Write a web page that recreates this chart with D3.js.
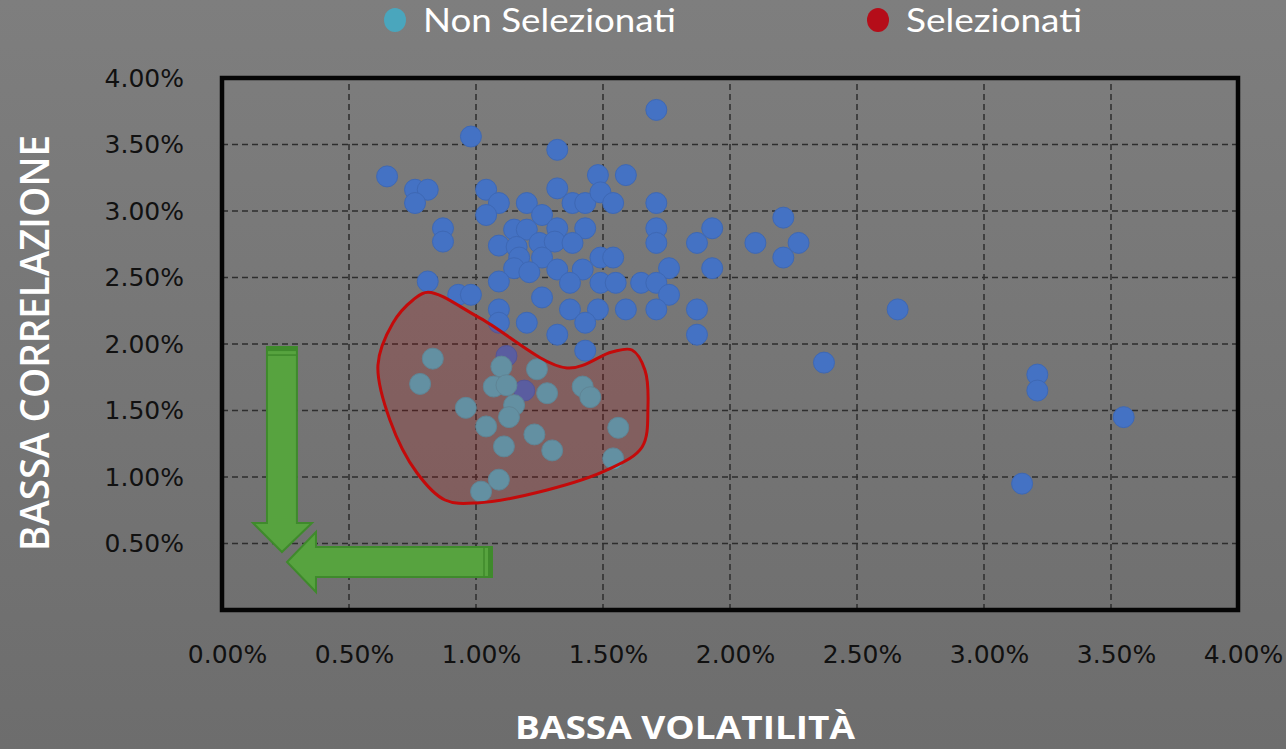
<!DOCTYPE html>
<html>
<head>
<meta charset="utf-8">
<script src="https://cdn.jsdelivr.net/npm/d3@7"></script>
<style>
  html, body { margin: 0; padding: 0; background: #777; }
  svg { display: block; }
</style>
</head>
<body>
<div id="chart"></div>
<script>
// values, in percent
var xTicks = [0, 0.5, 1, 1.5, 2, 2.5, 3, 3.5, 4];
var yTicks = [0.5, 1, 1.5, 2, 2.5, 3, 3.5, 4];

// non selezionati (blue)
var nonSelezionati = [
  [1.71,3.76],[0.98,3.56],[1.32,3.46],[0.65,3.26],[0.76,3.16],[0.81,3.16],[0.76,3.06],
  [1.04,3.16],[1.09,3.06],[1.20,3.06],[1.32,3.17],[1.48,3.27],[1.59,3.27],[1.38,3.06],
  [1.43,3.06],[1.49,3.14],[1.54,3.06],[1.71,3.06],[1.04,2.97],[1.26,2.97],[1.32,2.87],
  [1.43,2.87],[1.71,2.87],[1.71,2.76],[1.93,2.87],[1.87,2.76],[0.87,2.87],[0.87,2.77],
  [1.15,2.86],[1.20,2.86],[1.09,2.74],[1.16,2.73],[1.25,2.76],[1.31,2.77],[1.38,2.76],
  [1.17,2.65],[1.26,2.65],[1.49,2.65],[1.54,2.65],[1.15,2.57],[1.21,2.54],[1.32,2.56],
  [1.42,2.56],[1.76,2.57],[1.93,2.57],[0.81,2.47],[1.09,2.47],[1.37,2.46],[1.49,2.46],
  [1.55,2.46],[1.65,2.46],[1.71,2.46],[1.76,2.37],[0.93,2.37],[0.98,2.37],[1.26,2.35],
  [1.09,2.26],[1.37,2.26],[1.48,2.26],[1.59,2.26],[1.71,2.26],[1.87,2.26],[1.09,2.16],
  [1.20,2.16],[1.43,2.16],[1.32,2.07],[1.87,2.07],[1.43,1.95],[2.21,2.95],[2.10,2.76],
  [2.27,2.76],[2.21,2.65],[2.66,2.26],[2.37,1.86],[3.21,1.77],[3.21,1.65],[3.55,1.45],
  [3.15,0.95],[1.12,1.91],[1.19,1.65]
];

// selezionati (cyan, inside the red region)
var selezionati = [
  [0.83,1.89],[0.78,1.70],[1.10,1.83],[1.24,1.81],[1.07,1.68],[1.12,1.69],[1.28,1.63],
  [1.42,1.68],[1.45,1.60],[1.15,1.54],[0.96,1.52],[1.13,1.45],[1.04,1.38],[1.56,1.37],
  [1.23,1.32],[1.11,1.23],[1.30,1.20],[1.54,1.14],[1.09,0.98],[1.02,0.89]
];

// outline of the selected region
var regione = [
  [0.811,2.39],[1.016,2.195],[1.358,1.82],[1.535,1.94],[1.614,1.955],[1.665,1.805],
  [1.677,1.526],[1.654,1.226],[1.516,1.053],[1.28,0.902],[1.004,0.805],[0.878,0.827],
  [0.768,1.03],[0.661,1.429],[0.614,1.842],[0.673,2.158],[0.752,2.331]
];

// arrows (in data units)
var frecciaGiu = [[0.177,1.977],[0.295,1.977],[0.295,0.654],[0.354,0.654],[0.236,0.436],[0.122,0.654],[0.177,0.654]];
var frecciaSx = [[1.063,0.474],[0.370,0.474],[0.370,0.586],[0.256,0.361],[0.370,0.135],[0.370,0.248],[1.063,0.248]];

var legenda = ["Non Selezionati", "Selezionati"];
var colori = ["#4aa6bd", "#b50d19"];

var width = 1286,
    height = 749;
var margin = { top: 78, right: 48, bottom: 139, left: 222 };

var svg = d3.select('#chart')
      .append('svg')
      .attr('width', width)
      .attr('height', height);

// background, slightly darker at the bottom
var grad = svg.append('defs').append('linearGradient')
      .attr('id', 'bg').attr('x1', 0).attr('y1', 0).attr('x2', 0).attr('y2', 1);
grad.append('stop').attr('offset', '0%').attr('stop-color', '#7e7e7e');
grad.append('stop').attr('offset', '100%').attr('stop-color', '#6d6d6d');
svg.append('rect').attr('width', width).attr('height', height).attr('fill', 'url(#bg)');

var x = d3.scaleLinear().domain([0, 4]).range([margin.left, width - margin.right]);
var y = d3.scaleLinear().domain([0, 4]).range([height - margin.bottom, margin.top]);

// grid
svg.append('g').selectAll('line')
    .data(xTicks.filter(d => d > 0 && d < 4))
    .enter().append('line')
    .attr('x1', d => x(d)).attr('x2', d => x(d))
    .attr('y1', y(0)).attr('y2', y(4))
    .attr('stroke', '#2e2e2e').attr('stroke-width', 1.5)
    .attr('stroke-dasharray', '6,4');

svg.append('g').selectAll('line')
    .data(yTicks.filter(d => d < 4))
    .enter().append('line')
    .attr('x1', x(0)).attr('x2', x(4))
    .attr('y1', d => y(d)).attr('y2', d => y(d))
    .attr('stroke', '#2e2e2e').attr('stroke-width', 1.5)
    .attr('stroke-dasharray', '6,4');

// axes labels
var yAxis = d3.axisLeft(y).tickValues(yTicks).tickSize(0).tickPadding(38)
      .tickFormat(d => d.toFixed(2) + '%');
var gy = svg.append('g').attr('transform', 'translate(' + margin.left + ',0)').call(yAxis);

var xAxis = d3.axisBottom(x).tickValues(xTicks).tickSize(0).tickPadding(35)
      .tickFormat(d => d.toFixed(2) + '%');
var gx = svg.append('g').attr('transform', 'translate(0,' + y(0) + ')').call(xAxis);

[gx, gy].forEach(function(g) {
  g.select('.domain').remove();
  g.selectAll('text')
    .attr('fill', '#111111')
    .style('font-family', '"DejaVu Sans", sans-serif')
    .style('font-size', '25px');
});
gx.selectAll('text').attr('dx', 5);

// points
svg.append('g').selectAll('circle')
    .data(nonSelezionati)
    .enter().append('circle')
    .attr('cx', d => x(d[0]))
    .attr('cy', d => y(d[1]))
    .attr('r', 10.5)
    .attr('fill', '#4472c4')
    .attr('stroke', '#3e68b4')
    .attr('stroke-width', 1);

svg.append('g').selectAll('circle')
    .data(selezionati)
    .enter().append('circle')
    .attr('cx', d => x(d[0]))
    .attr('cy', d => y(d[1]))
    .attr('r', 10.5)
    .attr('fill', '#4fb0c6')
    .attr('stroke', '#4aa2b6')
    .attr('stroke-width', 1);

// selected region on top
var line = d3.line().x(d => x(d[0])).y(d => y(d[1])).curve(d3.curveCatmullRomClosed.alpha(0.5));
svg.append('path')
    .datum(regione)
    .attr('d', line)
    .attr('fill', '#c00000')
    .attr('fill-opacity', 0.18)
    .attr('stroke', '#c40a0a')
    .attr('stroke-width', 3);

// plot border
svg.append('rect')
    .attr('x', x(0)).attr('y', y(4))
    .attr('width', x(4) - x(0)).attr('height', y(0) - y(4))
    .attr('fill', 'none')
    .attr('stroke', '#050505')
    .attr('stroke-width', 4.5);

// green arrows
var poly = d3.line().x(d => x(d[0])).y(d => y(d[1]));
[frecciaGiu, frecciaSx].forEach(function(p) {
  svg.append('path')
      .attr('d', poly(p) + 'Z')
      .attr('fill', '#57a33f')
      .attr('stroke', '#3f8a2c')
      .attr('stroke-width', 2)
      .attr('stroke-linejoin', 'miter');
});
// darker bands at the arrow ends
svg.append('line')
    .attr('x1', x(frecciaGiu[0][0])).attr('x2', x(frecciaGiu[1][0]))
    .attr('y1', y(frecciaGiu[0][1]) + 2).attr('y2', y(frecciaGiu[0][1]) + 2)
    .attr('stroke', '#3f8a2c').attr('stroke-width', 4);
svg.append('line')
    .attr('x1', x(frecciaGiu[0][0])).attr('x2', x(frecciaGiu[1][0]))
    .attr('y1', y(frecciaGiu[0][1]) + 8).attr('y2', y(frecciaGiu[0][1]) + 8)
    .attr('stroke', '#3f8a2c').attr('stroke-width', 1.5);
svg.append('line')
    .attr('x1', x(frecciaSx[0][0]) - 2).attr('x2', x(frecciaSx[0][0]) - 2)
    .attr('y1', y(frecciaSx[0][1])).attr('y2', y(frecciaSx[6][1]))
    .attr('stroke', '#3f8a2c').attr('stroke-width', 4);
svg.append('line')
    .attr('x1', x(frecciaSx[0][0]) - 8).attr('x2', x(frecciaSx[0][0]) - 8)
    .attr('y1', y(frecciaSx[0][1])).attr('y2', y(frecciaSx[6][1]))
    .attr('stroke', '#3f8a2c').attr('stroke-width', 1.5);

// legend
var legX = [395, 878];
var leg = svg.append('g').selectAll('g')
    .data(legenda)
    .enter().append('g')
    .attr('transform', (d, i) => 'translate(' + legX[i] + ',20)');
leg.append('ellipse')
    .attr('rx', 11).attr('ry', 12)
    .attr('fill', (d, i) => colori[i]);
leg.append('text')
    .attr('x', 28).attr('y', 12)
    .attr('fill', '#ffffff')
    .style('font-family', 'Lato, sans-serif')
    .style('font-size', '33px')
    .attr('textLength', (d, i) => i == 0 ? 253 : 176)
    .attr('lengthAdjust', 'spacingAndGlyphs')
    .text(d => d);

// axis titles
svg.append('text')
    .attr('transform', 'translate(49,343) rotate(-90)')
    .attr('text-anchor', 'middle')
    .attr('fill', '#ffffff')
    .style('font-family', '"Open Sans", sans-serif')
    .style('font-weight', 600)
    .style('font-size', '40px')
    .attr('textLength', 416)
    .attr('lengthAdjust', 'spacingAndGlyphs')
    .text('BASSA CORRELAZIONE');

svg.append('text')
    .attr('x', 685).attr('y', 739)
    .attr('text-anchor', 'middle')
    .attr('fill', '#ffffff')
    .style('font-family', '"Open Sans", sans-serif')
    .style('font-weight', 700)
    .style('font-size', '32px')
    .attr('textLength', 340)
    .attr('lengthAdjust', 'spacingAndGlyphs')
    .text('BASSA VOLATILITÀ');
</script>
</body>
</html>
